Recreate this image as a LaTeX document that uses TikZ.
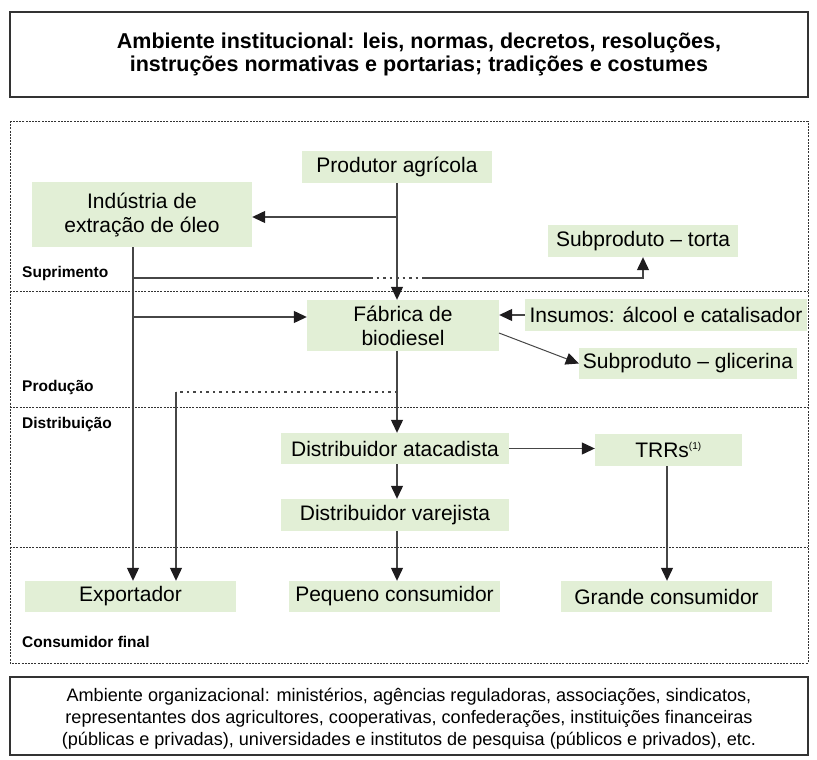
\documentclass[tikz,border=0pt]{standalone}
\usepackage{fontspec}
\setmainfont{Liberation Sans}
\usetikzlibrary{arrows.meta}
\definecolor{boxgreen}{RGB}{226,239,214}
\definecolor{lin}{RGB}{70,70,70}
\definecolor{tip}{RGB}{30,28,30}
\tikzset{
  box/.style={fill=boxgreen, draw=none, inner sep=0pt, align=center, font=\fontsize{21}{24}\selectfont},
  lane/.style={anchor=west, inner sep=0pt, font=\bfseries\fontsize{15.5}{18}\selectfont},
  conn/.style={draw=lin, line width=1.2pt},
  arr/.style={conn, -{Triangle[length=13pt,width=12pt,color=tip]}},
  dotl/.style={draw=lin, line width=1.1pt, dash pattern=on 2.5pt off 4pt},
  frame/.style={draw=black!80, line width=0.8pt, dash pattern=on 2pt off 1.2pt},
  solidframe/.style={draw=black!80, line width=1.2pt}
}
\begin{document}
\begin{tikzpicture}[x=1pt,y=-1pt]
\useasboundingbox (0,0) rectangle (817,760);
% top box
\draw[solidframe] (10,12) rectangle (808,97);
\node[font=\bfseries\fontsize{21.5}{23}\selectfont, align=center] (title) at (419,54.5) {Ambiente institucional: leis, normas, decretos, resoluções,\\instruções normativas e portarias; tradições e costumes};
% dotted frame and lanes
\draw[frame] (10,121) rectangle (808,663);
\draw[frame] (10,291) -- (808,291);
\draw[frame] (10,407) -- (808,407);
\draw[frame] (10,547) -- (808,547);
\node[lane] (l1) at (22,273) {Suprimento};
\node[lane] (l2) at (22,387) {Produção};
\node[lane] (l3) at (22,424) {Distribuição};
\node[lane] (l4) at (22,642) {Consumidor final};
% bottom box
\draw[solidframe] (10,677) rectangle (808,755);
\node[font=\fontsize{18.1}{22}\selectfont, align=center] (org) at (409,719) {Ambiente organizacional: ministérios, agências reguladoras, associações, sindicatos,\\representantes dos agricultores, cooperativas, confederações, instituições financeiras\\(públicas e privadas), universidades e institutos de pesquisa (públicos e privados), etc.};
% nodes
\node[box, minimum width=190pt, minimum height=32pt] (prod) at (397,167) {Produtor agrícola};
\node[box, minimum width=220pt, minimum height=65pt] (ind) at (142,214.5) {Indústria de\\extração de óleo};
\node[box, minimum width=190pt, minimum height=32pt] (torta) at (643,241) {Subproduto -- torta};
\node[box, minimum width=192pt, minimum height=51pt] (fab) at (403,325.5) {Fábrica de\\biodiesel};
\node[box, minimum width=282pt, minimum height=32pt] (ins) at (666,315) {Insumos: álcool e catalisador};
\node[box, minimum width=218pt, minimum height=31pt] (gli) at (688,363.5) {Subproduto -- glicerina};
\node[box, minimum width=228pt, minimum height=31pt] (ata) at (395,448.5) {Distribuidor atacadista};
\node[box, minimum width=147pt, minimum height=32pt] (trr) at (668.5,450) {TRRs\textsuperscript{\fontsize{10}{10}\selectfont(1)}};
\node[box, minimum width=228pt, minimum height=32pt] (var) at (395,515) {Distribuidor varejista};
\node[box, minimum width=211pt, minimum height=31pt] (exp) at (130.5,596.5) {Exportador};
\node[box, minimum width=211pt, minimum height=31pt] (peq) at (394.5,596.5) {Pequeno consumidor};
\node[box, minimum width=211pt, minimum height=31pt] (gra) at (666.5,596.5) {Grande consumidor};
% coordinates
\coordinate (px) at (397,183);
\coordinate (j1) at (397,217);
\coordinate (a1) at (133,247);
\coordinate (t0) at (133,278);
\coordinate (t1) at (370,278);
\coordinate (t2) at (424,278);
\coordinate (f0) at (133,317);
\coordinate (g0) at (499,333);
\coordinate (d0) at (397,392);
\coordinate (d1) at (176,392);
% connectors
\draw[arr] (px) -- (px |- fab.north);
\draw[arr] (j1) -- (j1 -| ind.east);
\draw[arr] (a1) -- (a1 |- exp.north);
\draw[conn] (t0) -- (t1);
\draw[dotl] (t1) -- (t2);
\draw[arr] (t2) -- (torta.south |- t2) -- (torta.south);
\draw[arr] (f0) -- (f0 -| fab.west);
\draw[arr] (ins.west) -- (ins.west -| fab.east);
\draw[arr, line width=1pt] (g0) -- (gli.west);
\draw[arr] (px |- fab.south) -- (px |- ata.north);
\draw[dotl] (d0) -- (d1);
\draw[arr] (d1) -- (d1 |- exp.north);
\draw[arr] (px |- ata.south) -- (px |- var.north);
\draw[arr] (px |- var.south) -- (px |- peq.north);
\draw[arr] (ata.east) -- (ata.east -| trr.west);
\draw[arr] (trr.south -| 667,0) -- (gra.north -| 667,0);
\end{tikzpicture}
\end{document}
